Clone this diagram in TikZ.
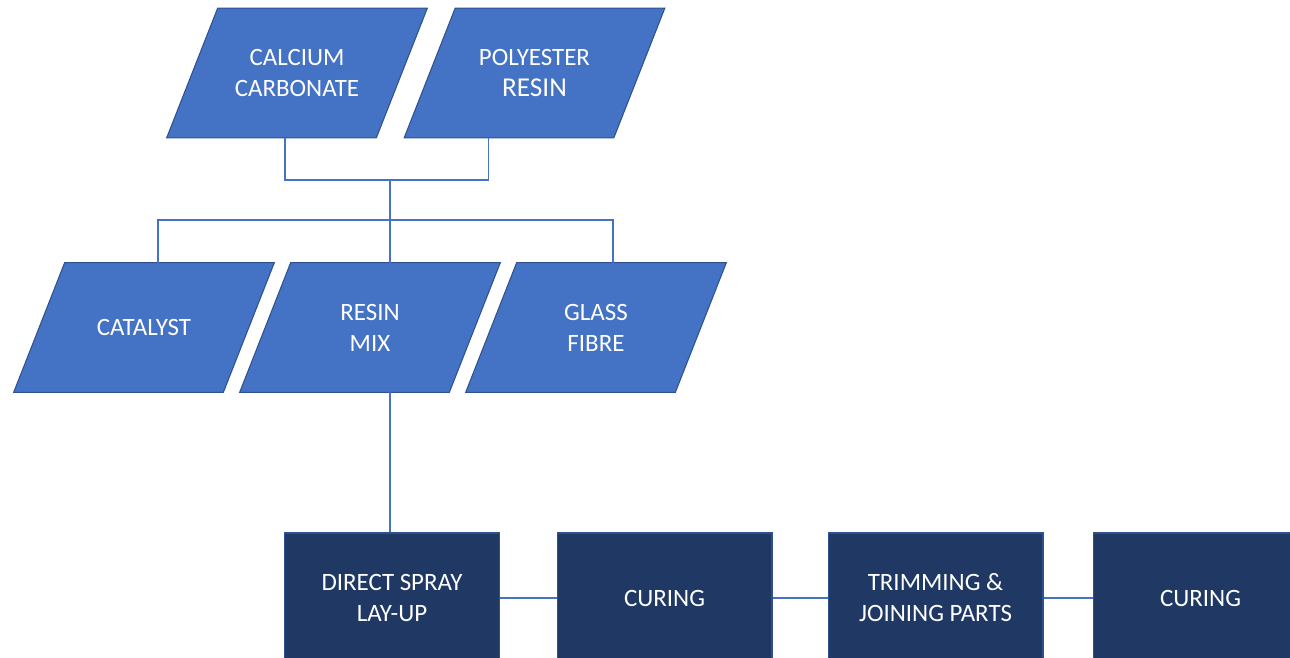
\documentclass[tikz,border=0pt]{standalone}
\usepackage{fontspec}
\setmainfont{Carlito}
\usetikzlibrary{positioning}

\definecolor{officeblue}{HTML}{4472C4}
\definecolor{edgeblue}{HTML}{2F528F}
\definecolor{navy}{HTML}{203864}

\begin{document}
\begin{tikzpicture}[
    x=0.02cm, y=-0.02cm,
    rawnode/.style={rectangle, minimum width=5.2cm, minimum height=2.58cm, inner sep=0pt,
        text=white, align=center, font=\fontsize{14.2}{17.6}\selectfont},
    rawshape/.style={fill=officeblue, draw=edgeblue, line width=0.6pt},
    procnode/.style={rectangle, minimum width=4.3cm, minimum height=2.6cm, inner sep=0pt, fill=navy,
        draw=edgeblue, line width=0.6pt, text=white, align=center, font=\fontsize{14.2}{17.6}\selectfont},
    link/.style={officeblue, line width=0.6pt}
]

\pgfdeclarelayer{background}
\pgfsetlayers{background,main}

\useasboundingbox (0,0) rectangle (1290,658);
\clip (0,0) rectangle (1290,658);

% Raw materials
\node[rawnode] (cc) at (297,73) {CALCIUM\\CARBONATE};
\node[rawnode] (pr) at (534.5,73) {POLYESTER\\{\fontsize{15.5}{17.6}\selectfont RESIN}};

% Mix row
\node[rawnode] (ca) at (144,327.5) {CATALYST};
\node[rawnode] (rm) at (370,327.5) {RESIN\\MIX};
\node[rawnode] (gf) at (596,327.5) {GLASS\\FIBRE};

% Parallelogram bodies
\begin{pgfonlayer}{background}
\foreach \n in {cc,pr,ca,rm,gf} {
    \draw[rawshape] ([xshift=1.02cm]\n.north west) -- (\n.north east)
        -- ([xshift=-1.02cm]\n.south east) -- (\n.south west) -- cycle;
}
\end{pgfonlayer}

% Process steps
\node[procnode] (dsl) at (392,598) {DIRECT SPRAY\\LAY-UP};
\node[procnode] (cur1) at (664.5,598) {CURING};
\node[procnode] (tjp) at (935.5,598) {TRIMMING \&\\JOINING PARTS};
\node[procnode] (cur2) at (1200.5,598) {CURING};

% Connections
\coordinate (j1) at (390,180);
\coordinate (j2) at (390,220);

\draw[link] ([xshift=-0.24cm]cc.south) |- (j1) -| ([xshift=-0.92cm]pr.south);
\draw[link] (j1) -- (j1 |- rm.north);
\draw[link] ([xshift=0.28cm]ca.north) |- (j2) -| ([xshift=0.34cm]gf.north);
\draw[link] (j1 |- rm.south) -- (j1 |- dsl.north);

\draw[link] (dsl) -- (cur1);
\draw[link] (cur1) -- (tjp);
\draw[link] (tjp) -- (cur2);

\end{tikzpicture}
\end{document}
